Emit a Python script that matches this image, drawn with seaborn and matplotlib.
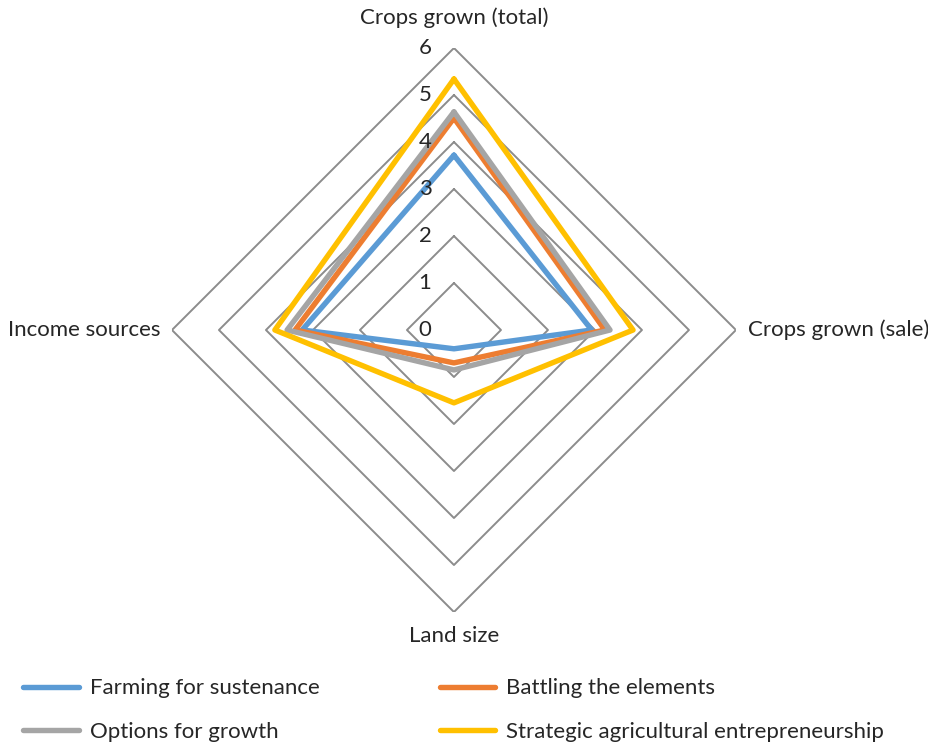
import numpy as np
import pandas as pd
import matplotlib
matplotlib.use("Agg")
import matplotlib.pyplot as plt
from matplotlib.transforms import offset_copy
import seaborn as sns

# axes of the radar chart (clockwise from top)
categories = ["Crops grown (total)", "Crops grown (sale)", "Land size", "Income sources"]
groups = ["Farming for sustenance", "Battling the elements",
          "Options for growth", "Strategic agricultural entrepreneurship"]

farming = [3.72, 2.93, 0.40, 3.23]
battling = [4.51, 3.21, 0.70, 3.38]
options = [4.64, 3.32, 0.85, 3.55]
strategic = [5.34, 3.81, 1.55, 3.81]

colors = ["#5B9BD5", "#ED7D31", "#A5A5A5", "#FFC000"]
levels = [0, 1, 2, 3, 4, 5, 6]

sns.set_style("white")
plt.rcParams["font.family"] = ["Lato", "DejaVu Sans"]

angles = np.linspace(0, 2 * np.pi, len(categories), endpoint=False)

# long table, each polygon closed back to its first point
rows = []
for name, vals in zip(groups, [farming, battling, options, strategic]):
    closed = list(vals) + [vals[0]]
    thetas = list(angles) + [2 * np.pi]
    for t, v in zip(thetas, closed):
        rows.append({"angle": t, "value": v, "group": name})
df = pd.DataFrame(rows)

fig = plt.figure(figsize=(9.29, 7.42), dpi=100)
ax = fig.add_axes([0.1851, 0.1752, 0.6071, 0.7601], projection="polar")
ax.set_theta_zero_location("N")
ax.set_theta_direction(-1)

# diamond gridlines
grid_theta = list(angles) + [2 * np.pi]
for lv in levels[1:]:
    ax.plot(grid_theta, [lv] * len(grid_theta), color="#8C8C8C", lw=1.4, zorder=1)

sns.lineplot(data=df, x="angle", y="value", hue="group", hue_order=groups,
             palette=colors, sort=False, estimator=None, units="group",
             linewidth=3.9, ax=ax, legend=False, zorder=3)

ax.set_ylim(0, 6)
ax.grid(False)
ax.spines["polar"].set_visible(False)
ax.set_xticks([])
ax.set_yticks([])
ax.set_xlabel("")
ax.set_ylabel("")

fs = 16

# radial value labels to the left of the top spoke
lab_tr = offset_copy(ax.transData, fig=fig, x=-29, y=0, units="dots")
for lv in levels:
    ax.text(0, lv, str(lv), transform=lab_tr, ha="center", va="center", fontsize=fs)

ax.text(0, 6, categories[0], transform=offset_copy(ax.transData, fig=fig, x=0, y=30, units="dots"),
        ha="center", va="center", fontsize=fs)
ax.text(np.pi / 2, 6, categories[1], transform=offset_copy(ax.transData, fig=fig, x=12, y=0, units="dots"),
        ha="left", va="center", fontsize=fs)
ax.text(np.pi, 6, categories[2], transform=offset_copy(ax.transData, fig=fig, x=0, y=-24, units="dots"),
        ha="center", va="center", fontsize=fs)
ax.text(3 * np.pi / 2, 6, categories[3], transform=offset_copy(ax.transData, fig=fig, x=-11, y=0, units="dots"),
        ha="right", va="center", fontsize=fs)

# legend below, filled column-wise
handles = [plt.Line2D([], [], color=c, lw=3.9) for c in colors]
order = [0, 2, 1, 3]
fig.legend([handles[i] for i in order], [groups[i] for i in order],
           loc="upper left", bbox_to_anchor=(0.025, 0.0856), ncol=2, frameon=False,
           fontsize=fs, handlelength=2.5, handletextpad=0.5, columnspacing=5.4,
           labelspacing=1.05, borderaxespad=0, borderpad=0)

fig.savefig("out.png", dpi=100)
